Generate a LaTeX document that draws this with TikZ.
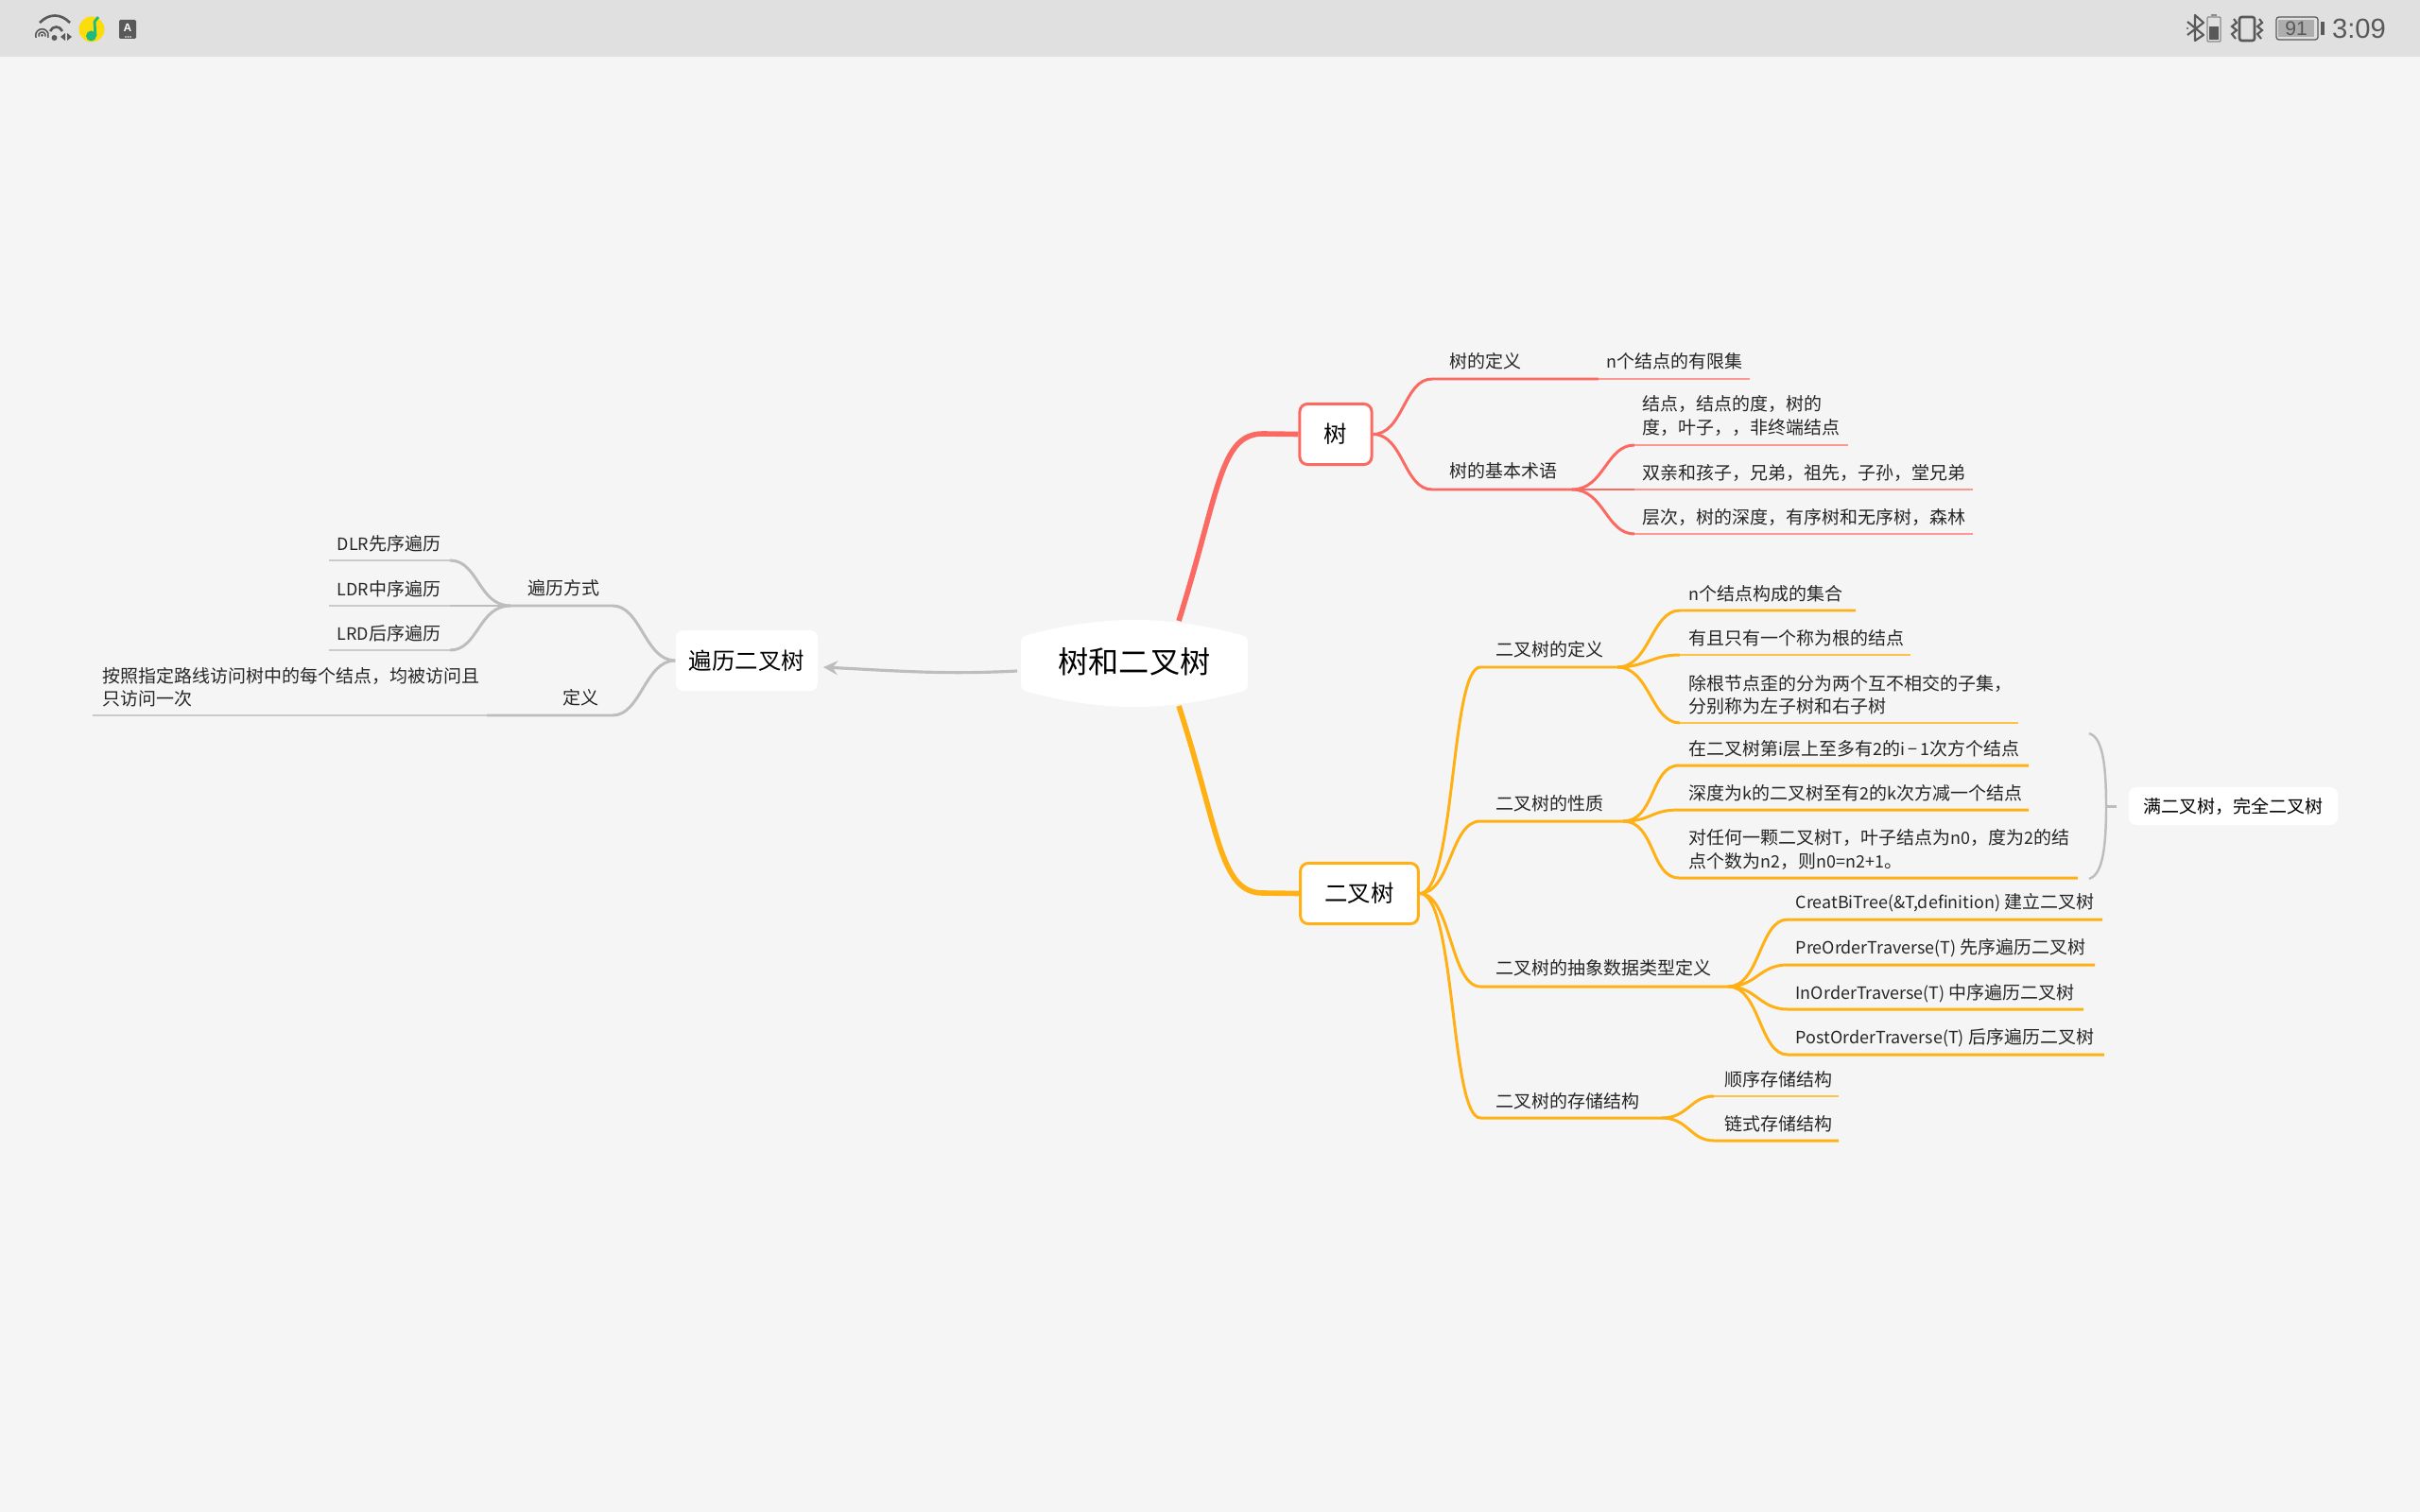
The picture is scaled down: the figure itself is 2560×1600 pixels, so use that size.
\documentclass[tikz,border=0pt]{standalone}
\usepackage{fontspec}
\setmainfont{Noto Sans CJK SC}
\newfontfamily\latfont{Liberation Sans}
\newcommand{\lat}[1]{{\fontsize{5.1}{6.85}\selectfont #1}}
\definecolor{bgcol}{HTML}{F5F5F5}
\definecolor{barcol}{HTML}{E0E0E0}
\definecolor{iconcol}{HTML}{595959}
\definecolor{treered}{HTML}{FB6A62}
\definecolor{binorange}{HTML}{FFB014}
\definecolor{walkgray}{HTML}{BDBDBD}
\definecolor{notegreen}{HTML}{1EBB7C}
\definecolor{noteyellow}{HTML}{FDDC0D}
\tikzset{
    leaf/.style={anchor=west, inner sep=0pt, align=left, text=black!85,
        font=\fontsize{5.4}{6.85}\selectfont},
    midbox/.style={inner sep=0pt, fill=white, rounded corners=2.3pt,
        minimum height=0.64cm, font=\fontsize{6.95}{8}\selectfont},
    redline/.style={treered, line width=0.85pt},
    redtwig/.style={treered!70, line width=0.6pt},
    ornline/.style={binorange, line width=0.85pt},
    orntwig/.style={binorange!80, line width=0.6pt},
    grayline/.style={walkgray, line width=0.85pt},
    graytwig/.style={walkgray!80, line width=0.6pt}
}
\begin{document}
\begin{tikzpicture}[x=0.01cm, y=-0.01cm, >=stealth]
    \useasboundingbox (0,0) rectangle (2560,1600);
    \fill[bgcol] (0,0) rectangle (2560,1600);
    \fill[barcol] (0,0) rectangle (2560,60);

    % left status icons
    \begin{scope}[iconcol, line width=0.75pt]
        \draw (42,24) .. controls (52,14) and (64,14) .. (74,24);
        \draw (53,33) .. controls (56,27) and (63,27) .. (66,33);
        \draw[line width=0.45pt] (44.5,37.5) ++(-200:6.8) arc[start angle=-200,end angle=20,radius=6.8];
        \draw[line width=0.45pt] (44.5,37.5) ++(-200:3.6) arc[start angle=-200,end angle=20,radius=3.6];
        \fill (44.5,37.5) circle (1.5);
        \fill (57.5,40) circle (3);
        \fill (69,35) -- (69,43) -- (64,39) -- cycle;
        \fill (71,35) -- (71,43) -- (76,39) -- cycle;
    \end{scope}
    \fill[noteyellow] (97,31) circle (13.5);
    \fill[notegreen] (96.5,38) circle (5.5);
    \draw[notegreen, line width=0.8pt] (101,38) -- (100,23) -- (104,18);
    \fill[iconcol, rounded corners=0.4pt] (126,21) rectangle (144,41);
    \node[inner sep=0pt, text=white, font=\latfont\bfseries\fontsize{3.4}{4}\selectfont] (keyA) at (135,29.5) {A};
    \fill[white] (133,39) circle (0.8) (135.5,39) circle (0.8) (138,39) circle (0.8);

    % right status icons
    \draw[iconcol, line width=0.6pt, line join=round]
        (2314,23) -- (2331,37) -- (2322,43) -- (2322,16) -- (2331,24) -- (2314,37);
    \fill[iconcol] (2314,30) circle (1.2);
    \draw[iconcol!70, line width=0.35pt, rounded corners=0.3pt] (2335,18) rectangle (2349,44);
    \fill[iconcol] (2337,28) rectangle (2347,42);
    \fill[iconcol!70] (2339,15.5) rectangle (2345,17);
    \draw[iconcol, line width=0.75pt, rounded corners=0.7pt] (2369,18) rectangle (2385,43);
    \draw[iconcol, line width=0.6pt] (2363,20) -- (2366,24) -- (2361,28) -- (2366,32) -- (2361,36) -- (2365,41);
    \draw[iconcol, line width=0.6pt] (2390,20) -- (2393,24) -- (2388,28) -- (2393,32) -- (2388,36) -- (2392,41);
    \draw[iconcol, line width=0.35pt, rounded corners=0.8pt] (2408,18) rectangle (2452,42);
    \fill[black!32] (2410,21) rectangle (2448,39);
    \fill[iconcol] (2455,23) rectangle (2459,37);
    \node[inner sep=0pt, text=iconcol, font=\latfont\fontsize{6}{7}\selectfont] (batnum) at (2429,30) {91};
    \node[inner sep=0pt, text=iconcol, font=\latfont\fontsize{8.3}{9}\selectfont] (clock) at (2495.5,30) {3:09};

    % root
    \coordinate (rootup) at (1247,657);
    \coordinate (rootdown) at (1247,747);
    \fill[white] (1080,680) .. controls (1080,675) and (1083,673) .. (1087,672)
        .. controls (1130,660) and (1170,656) .. (1200,656)
        .. controls (1230,656) and (1270,660) .. (1313,672)
        .. controls (1317,673) and (1320,675) .. (1320,680)
        -- (1320,724) .. controls (1320,729) and (1317,731) .. (1313,732)
        .. controls (1270,744) and (1230,748) .. (1200,748)
        .. controls (1170,748) and (1130,744) .. (1087,732)
        .. controls (1083,731) and (1080,729) .. (1080,724) -- cycle;
    \node[inner sep=0pt, font=\fontsize{9.15}{10}\selectfont] (root) at (1200,700.5) {树和二叉树};

    % middle boxes
    \node[midbox, draw=treered, line width=0.85pt, minimum width=0.76cm] (treebox) at (1413,459.5) {树};
    \node[midbox, draw=binorange, line width=0.85pt, minimum width=1.245cm] (binbox) at (1438,945.5) {二叉树};
    \node[midbox, minimum width=1.5cm] (walkbox) at (790,699) {遍历二叉树};
    \node[midbox, minimum width=2.21cm, minimum height=0.4cm, font=\fontsize{5.4}{7}\selectfont] (fullbox) at (2362.5,853) {满二叉树，完全二叉树};

    \draw[treered, line width=1.6pt] (rootup) .. controls (1290,520) and (1290,459) .. (1336,459) -- (treebox.west);
    \draw[binorange, line width=1.6pt] (rootdown) .. controls (1290,880) and (1290,945) .. (1336,945) -- (binbox.west);
    \coordinate (walkin) at (1076,710);
    \coordinate (walkout) at (871,706);
    \draw[->, walkgray, line width=0.9pt] (walkin) .. controls (1000,714) and (950,710) .. (walkout);

    % tree branch
    \node[leaf] (treedef) at (1533,382) {树的定义};
    \node[leaf] (treedefA) at (1699,382.5) {\lat{n}个结点的有限集};
    \node[leaf] (termlab) at (1533,498.5) {树的基本术语};
    \node[leaf] (termA) at (1737,440) {结点，结点的度，树的\\度，叶子，，非终端结点};
    \node[leaf] (termB) at (1737,500) {双亲和孩子，兄弟，祖先，子孙，堂兄弟};
    \node[leaf] (termC) at (1737,547) {层次，树的深度，有序树和无序树，森林};
    \coordinate (treeup) at (1515,401);
    \coordinate (treeupmid) at (1691,401);
    \coordinate (treeupend) at (1851,401);
    \coordinate (treedown) at (1515,518);
    \coordinate (termfork) at (1663,518);
    \draw[redline] (treebox.east) .. controls +(32,0) and +(-30,0) .. (treeup) -- (treeupmid);
    \draw[redtwig] (treeupmid) -- (treeupend);
    \draw[redline] (treebox.east) .. controls +(32,0) and +(-30,0) .. (treedown) -- (termfork);
    \draw[redline] (termfork) .. controls +(34,0) and +(-30,0) .. (1729,471);
    \draw[redline] (termfork) -- (1729,518);
    \draw[redline] (termfork) .. controls +(34,0) and +(-30,0) .. (1729,565);
    \coordinate (termAend) at (1955,471);
    \coordinate (termBend) at (2087,518);
    \coordinate (termCend) at (2087,565);
    \draw[redtwig] (1729,471) -- (termAend);
    \draw[redtwig] (1729,518) -- (termBend);
    \draw[redtwig] (1729,565) -- (termCend);

    % binary tree branch, definition
    \node[leaf] (bindef) at (1582,687) {二叉树的定义};
    \node[leaf] (bindefA) at (1786,628.5) {\lat{n}个结点构成的集合};
    \node[leaf] (bindefB) at (1786,675) {有且只有一个称为根的结点};
    \node[leaf] (bindefC) at (1786,735) {除根节点歪的分为两个互不相交的子集，\\分别称为左子树和右子树};
    \coordinate (bindefin) at (1566,706);
    \coordinate (bindeffork) at (1711,706);
    \draw[ornline] (binbox.east) .. controls (1540,945) and (1534,706) .. (bindefin) -- (bindeffork);
    \draw[ornline] (bindeffork) .. controls +(34,0) and +(-30,0) .. (1777,646) -- (1963,646);
    \draw[ornline] (bindeffork) .. controls +(30,0) and +(-30,0) .. (1777,693);
    \draw[orntwig] (1777,693) -- (2021,693);
    \draw[ornline] (bindeffork) .. controls +(34,0) and +(-30,0) .. (1777,765);
    \draw[orntwig] (1777,765) -- (2135,765);

    % properties
    \node[leaf] (binpro) at (1582,850) {二叉树的性质};
    \node[leaf] (binproA) at (1786,792) {在二叉树第\lat{i}层上至多有\lat{2}的\lat{i\,−\,1}次方个结点};
    \node[leaf] (binproB) at (1786,839) {深度为\lat{k}的二叉树至有\lat{2}的\lat{k}次方减一个结点};
    \node[leaf] (binproC) at (1786,899) {对任何一颗二叉树\lat{T}，叶子结点为\lat{n0}，度为\lat{2}的结\\点个数为\lat{n2}，则\lat{n0=n2+1}。};
    \coordinate (binproin) at (1566,869);
    \coordinate (binprofork) at (1717,869);
    \draw[ornline] (binbox.east) .. controls (1535,945) and (1534,869) .. (binproin) -- (binprofork);
    \draw[ornline] (binprofork) .. controls +(34,0) and +(-30,0) .. (1776,810) -- (2146,810);
    \draw[ornline] (binprofork) .. controls +(30,0) and +(-30,0) .. (1776,857) -- (2146,857);
    \draw[ornline] (binprofork) .. controls +(34,0) and +(-30,0) .. (1776,929) -- (2198,929);

    % abstract type
    \node[leaf] (binadt) at (1582,1024.5) {二叉树的抽象数据类型定义};
    \node[leaf] (binadtA) at (1899,955.5) {\lat{CreatBiTree(\&T,definition)} 建立二叉树};
    \node[leaf] (binadtB) at (1899,1003) {\lat{PreOrderTraverse(T)} 先序遍历二叉树};
    \node[leaf] (binadtC) at (1899,1051) {\lat{InOrderTraverse(T)} 中序遍历二叉树};
    \node[leaf] (binadtD) at (1899,1098) {\lat{PostOrderTraverse(T)} 后序遍历二叉树};
    \coordinate (binadtin) at (1566,1044);
    \coordinate (binadtfork) at (1828,1044);
    \draw[ornline] (binbox.east) .. controls (1535,945) and (1534,1044) .. (binadtin) -- (binadtfork);
    \draw[ornline] (binadtfork) .. controls +(34,0) and +(-30,0) .. (1891,973) -- (2224,973);
    \draw[ornline] (binadtfork) .. controls +(30,0) and +(-30,0) .. (1891,1021) -- (2216,1021);
    \draw[ornline] (binadtfork) .. controls +(30,0) and +(-30,0) .. (1891,1068) -- (2204,1068);
    \draw[ornline] (binadtfork) .. controls +(34,0) and +(-30,0) .. (1891,1116) -- (2226,1116);

    % storage
    \node[leaf] (binsto) at (1582,1165) {二叉树的存储结构};
    \node[leaf] (binstoA) at (1824,1142) {顺序存储结构};
    \node[leaf] (binstoB) at (1824,1189) {链式存储结构};
    \coordinate (binstoin) at (1566,1183);
    \coordinate (binstofork) at (1758,1183);
    \draw[ornline] (binbox.east) .. controls (1540,945) and (1534,1183) .. (binstoin) -- (binstofork);
    \draw[ornline] (binstofork) .. controls +(28,0) and +(-25,0) .. (1813,1160);
    \draw[orntwig] (1813,1160) -- (1945,1160);
    \draw[ornline] (binstofork) .. controls +(28,0) and +(-25,0) .. (1813,1207) -- (1945,1207);

    % bracket
    \coordinate (bracemid) at (2228,853);
    \coordinate (bracetip) at (2239,853);
    \draw[walkgray, line width=0.7pt] (2210,776) .. controls (2222,780) and (2228,800) .. (bracemid)
        .. controls (2228,906) and (2222,926) .. (2210,930);
    \draw[walkgray, line width=0.85pt] (bracemid) -- (bracetip);

    % traverse branch
    \node[leaf] (walkhow) at (558,622) {遍历方式};
    \node[leaf] (walkdef) at (595,738) {定义};
    \node[leaf] (dlr) at (356,575) {\lat{DLR}先序遍历};
    \node[leaf] (ldr) at (356,623) {\lat{LDR}中序遍历};
    \node[leaf] (lrd) at (356,670) {\lat{LRD}后序遍历};
    \node[leaf] (walktext) at (108,727) {按照指定路线访问树中的每个结点，均被访问且\\只访问一次};
    \coordinate (walkup) at (648,641);
    \coordinate (walkfork) at (540,641);
    \coordinate (walklow) at (648,757);
    \coordinate (walklowmid) at (515,757);
    \draw[grayline] (walkbox.west) .. controls +(-32,0) and +(30,0) .. (walkup) -- (walkfork);
    \draw[grayline] (walkbox.west) .. controls +(-32,0) and +(30,0) .. (walklow) -- (walklowmid);
    \draw[graytwig] (walklowmid) -- (98,757);
    \draw[grayline] (walkfork) .. controls +(-34,0) and +(30,0) .. (476,593);
    \draw[grayline] (walkfork) -- (476,641);
    \draw[grayline] (walkfork) .. controls +(-34,0) and +(30,0) .. (476,688);
    \draw[graytwig] (476,593) -- (348,593);
    \draw[graytwig] (476,641) -- (348,641);
    \draw[graytwig] (476,688) -- (348,688);
\end{tikzpicture}
\end{document}
